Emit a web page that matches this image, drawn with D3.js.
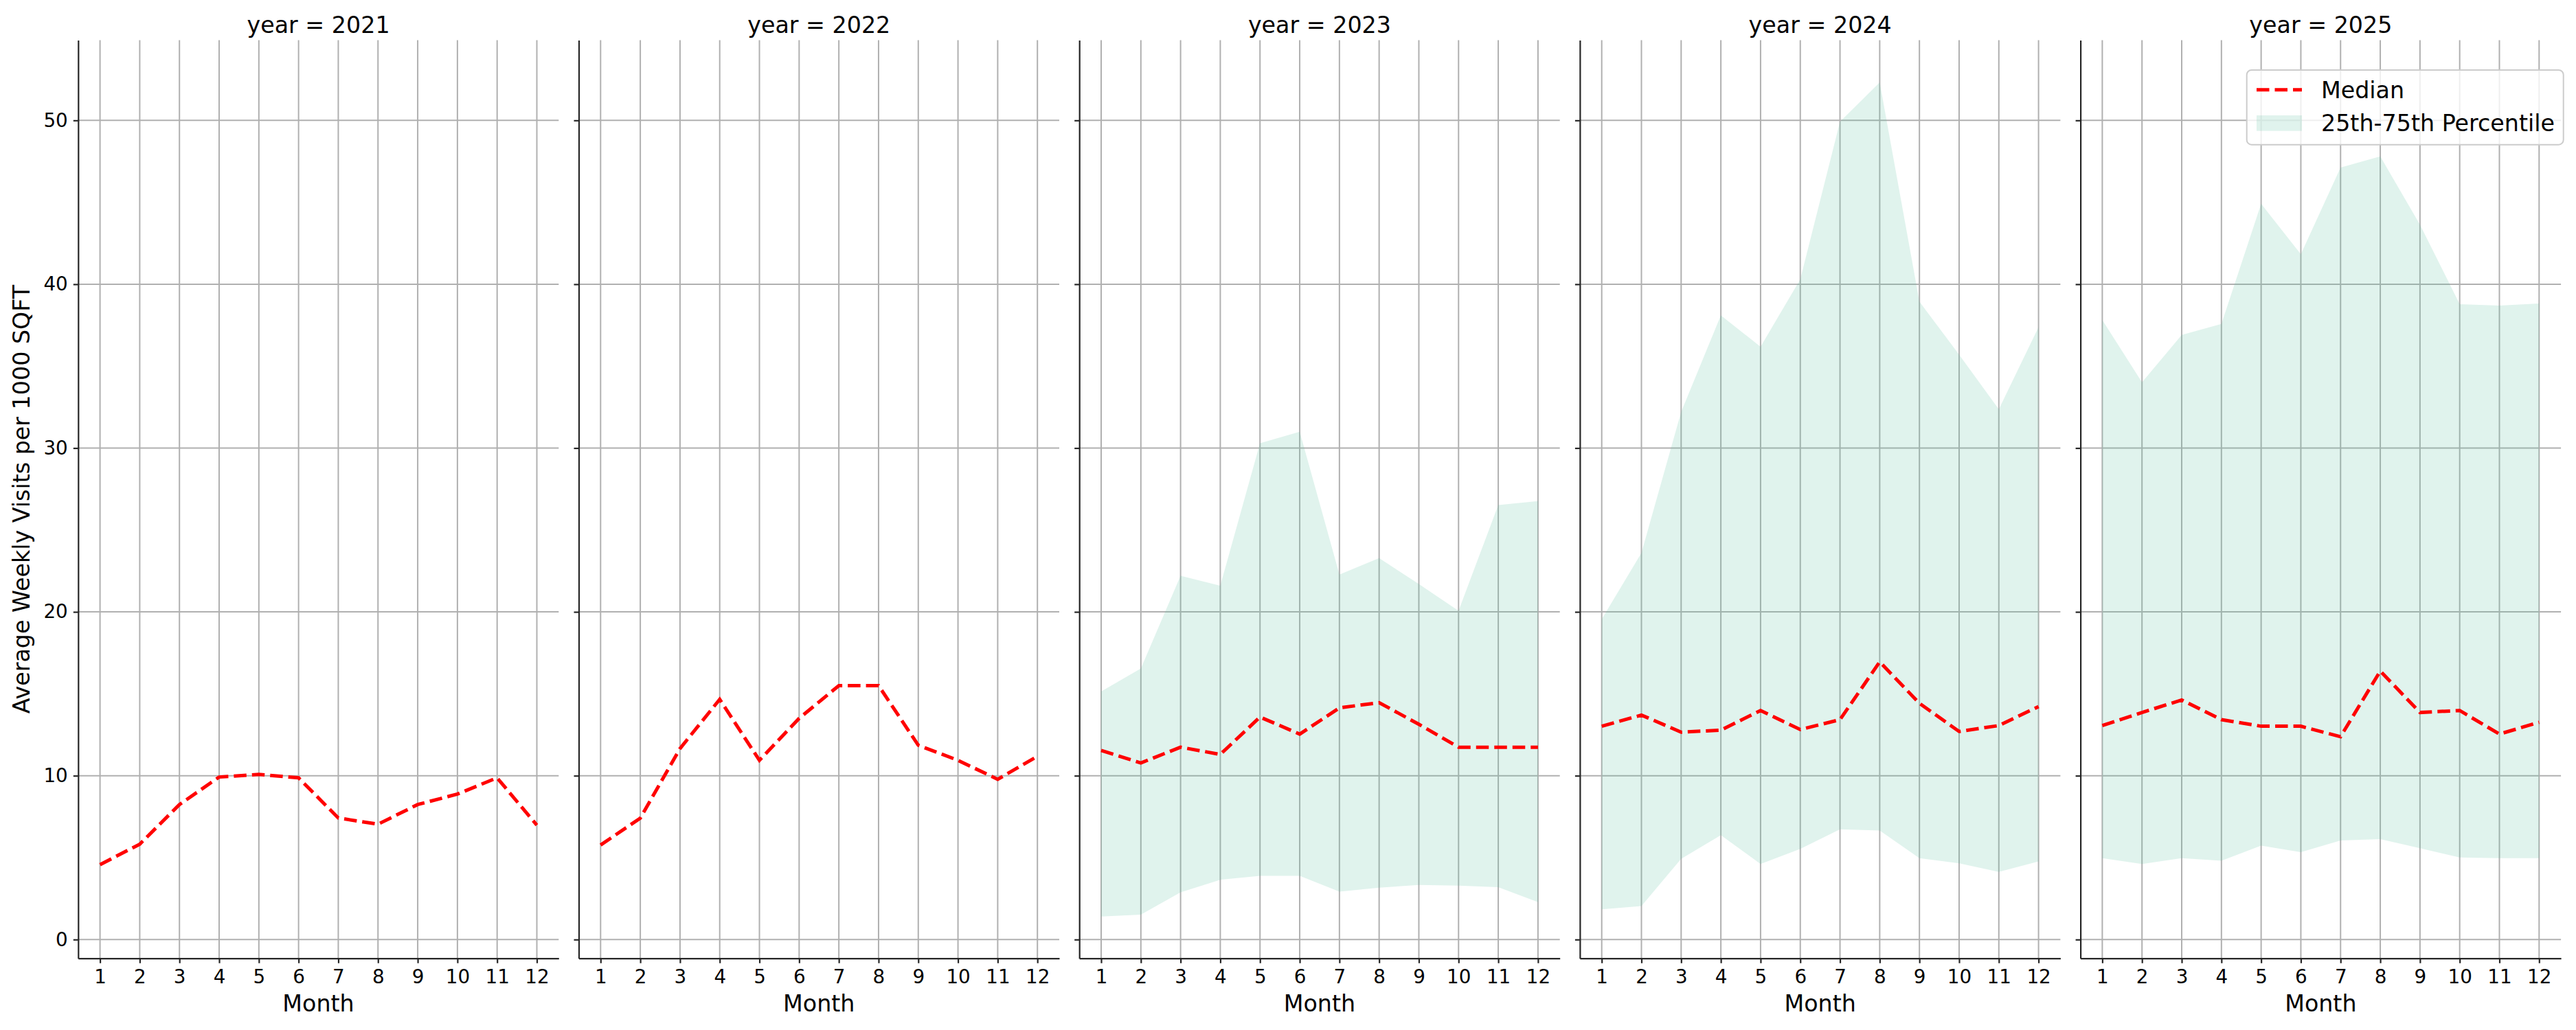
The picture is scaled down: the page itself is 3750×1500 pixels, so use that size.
<!DOCTYPE html>
<html>
<head>
<meta charset="utf-8">
<script src="https://cdn.jsdelivr.net/npm/d3@7"></script>
<style>
  body { margin: 0; background: #fff; }
  svg { display: block; font-family: "DejaVu Sans", sans-serif; }
</style>
</head>
<body>
<svg id="chart" width="3750" height="1500"></svg>
<script>
// data
const months = [1, 2, 3, 4, 5, 6, 7, 8, 9, 10, 11, 12];
const years = [2021, 2022, 2023, 2024, 2025];
const yTicks = [0, 10, 20, 30, 40, 50];

const median2021 = [4.57, 5.82, 8.24, 9.92, 10.08, 9.87, 7.42, 7.04, 8.24, 8.88, 9.87, 6.98];
const median2022 = [5.77, 7.41, 11.66, 14.66, 10.94, 13.5, 15.5, 15.5, 11.86, 10.94, 9.78, 11.18];
const median2023 = [11.54, 10.78, 11.74, 11.3, 13.58, 12.54, 14.14, 14.46, 13.14, 11.74, 11.74, 11.74];
const median2024 = [13.02, 13.7, 12.66, 12.78, 13.98, 12.82, 13.42, 16.95, 14.42, 12.7, 13.06, 14.22];
const median2025 = [13.06, 13.86, 14.62, 13.42, 13.02, 13.02, 12.38, 16.39, 13.86, 13.98, 12.54, 13.26];

// 25th / 75th percentile, only 2023 onwards
const p25_2023 = [1.4, 1.52, 2.88, 3.65, 3.89, 3.89, 2.92, 3.17, 3.33, 3.29, 3.2, 2.28];
const p75_2023 = [15.14, 16.55, 22.2, 21.6, 30.29, 31.0, 22.28, 23.28, 21.7, 20.07, 26.52, 26.76];
const p25_2024 = [1.84, 2.04, 4.93, 6.37, 4.61, 5.53, 6.73, 6.65, 4.97, 4.65, 4.13, 4.77];
const p75_2024 = [19.55, 23.6, 32.2, 38.1, 36.18, 40.3, 49.92, 52.32, 38.94, 35.7, 32.37, 37.38];
const p25_2025 = [4.97, 4.61, 4.97, 4.81, 5.73, 5.33, 6.05, 6.13, 5.57, 5.01, 4.97, 4.97];
const p75_2025 = [37.82, 34.01, 36.9, 37.58, 44.91, 41.83, 47.12, 47.8, 43.63, 38.78, 38.7, 38.82];

const medians = [median2021, median2022, median2023, median2024, median2025];
const p25s = [null, null, p25_2023, p25_2024, p25_2025];
const p75s = [null, null, p75_2023, p75_2024, p75_2025];

const svg = d3.select("#chart");

const plotTop = 58.4, plotBottom = 1395.7;
const panelW = 699.5, panelStep = 728.7, firstLeft = 113.8;
const bandColor = "#66c2a5";
const gridColor = "#b0b0b0";
const inkColor = "#262626";
const labelSize = "33.3px", tickSize = "27.8px";

const yScale = d3.scaleLinear().domain([-1.15, 54.9]).range([plotBottom, plotTop]);

years.forEach((year, i) => {
    const left = firstLeft + i * panelStep;
    const xScale = d3.scaleLinear().domain([0.45, 12.55]).range([left, left + panelW]);
    const g = svg.append("g");

    const rows = months.map((m, k) => ({
        month: m,
        median: medians[i][k],
        lo: p25s[i] ? p25s[i][k] : null,
        hi: p75s[i] ? p75s[i][k] : null
    }));

    // grid
    g.append("g")
        .selectAll("line")
        .data(yTicks)
        .join("line")
        .attr("x1", left).attr("x2", left + panelW)
        .attr("y1", d => yScale(d)).attr("y2", d => yScale(d))
        .attr("stroke", gridColor).attr("stroke-width", 2);
    g.append("g")
        .selectAll("line")
        .data(months)
        .join("line")
        .attr("x1", d => xScale(d)).attr("x2", d => xScale(d))
        .attr("y1", plotTop).attr("y2", plotBottom)
        .attr("stroke", gridColor).attr("stroke-width", 2);

    // percentile band
    if (p25s[i]) {
        const area = d3.area()
            .x(d => xScale(d.month))
            .y0(d => yScale(d.lo))
            .y1(d => yScale(d.hi));
        g.append("path")
            .datum(rows)
            .attr("d", area)
            .attr("fill", bandColor)
            .attr("fill-opacity", 0.2);
    }

    // median
    const line = d3.line()
        .x(d => xScale(d.month))
        .y(d => yScale(d.median));
    g.append("path")
        .datum(rows)
        .attr("d", line)
        .attr("fill", "none")
        .attr("stroke", "red")
        .attr("stroke-width", 5)
        .attr("stroke-dasharray", "18.5,8");

    // axes
    const yAxis = g.append("g")
        .attr("transform", `translate(${left},0)`)
        .call(d3.axisLeft(yScale).tickValues(yTicks).tickSize(7).tickSizeOuter(0).tickPadding(8)
            .tickFormat(i === 0 ? d3.format("d") : () => ""));
    const xAxis = g.append("g")
        .attr("transform", `translate(0,${plotBottom})`)
        .call(d3.axisBottom(xScale).tickValues(months).tickSize(7).tickSizeOuter(0).tickPadding(10)
            .tickFormat(d3.format("d")));

    [yAxis, xAxis].forEach(ax => {
        ax.select(".domain").attr("stroke", inkColor).attr("stroke-width", 2.2);
        ax.selectAll(".tick line").attr("stroke", inkColor).attr("stroke-width", 2.2);
        ax.selectAll(".tick text")
            .attr("fill", "#000")
            .style("font-size", tickSize)
            .style("font-family", "DejaVu Sans");
    });

    // title + x label
    g.append("text")
        .attr("x", left + panelW / 2)
        .attr("y", 48)
        .attr("text-anchor", "middle")
        .style("font-size", labelSize)
        .text(`year = ${year}`);
    g.append("text")
        .attr("x", left + panelW / 2)
        .attr("y", 1473)
        .attr("text-anchor", "middle")
        .style("font-size", labelSize)
        .text("Month");

    // legend in last panel
    if (i === years.length - 1) {
        const lg = g.append("g");
        lg.append("rect")
            .attr("x", 3270.7).attr("y", 102)
            .attr("width", 461).attr("height", 108.7)
            .attr("rx", 7)
            .attr("fill", "white").attr("fill-opacity", 0.8)
            .attr("stroke", "#cccccc").attr("stroke-width", 2);
        lg.append("line")
            .attr("x1", 3285).attr("x2", 3351)
            .attr("y1", 130.7).attr("y2", 130.7)
            .attr("stroke", "red").attr("stroke-width", 5)
            .attr("stroke-dasharray", "18.5,8");
        lg.append("rect")
            .attr("x", 3285).attr("y", 168)
            .attr("width", 66).attr("height", 22.7)
            .attr("fill", bandColor).attr("fill-opacity", 0.2);
        lg.append("text")
            .attr("x", 3379).attr("y", 142.7)
            .style("font-size", labelSize)
            .text("Median");
        lg.append("text")
            .attr("x", 3379).attr("y", 190.7)
            .style("font-size", labelSize)
            .text("25th-75th Percentile");
    }
});

// shared y label
svg.append("text")
    .attr("transform", `translate(43,${(plotTop + plotBottom) / 2}) rotate(-90)`)
    .attr("text-anchor", "middle")
    .style("font-size", labelSize)
    .text("Average Weekly Visits per 1000 SQFT");
</script>
</body>
</html>
